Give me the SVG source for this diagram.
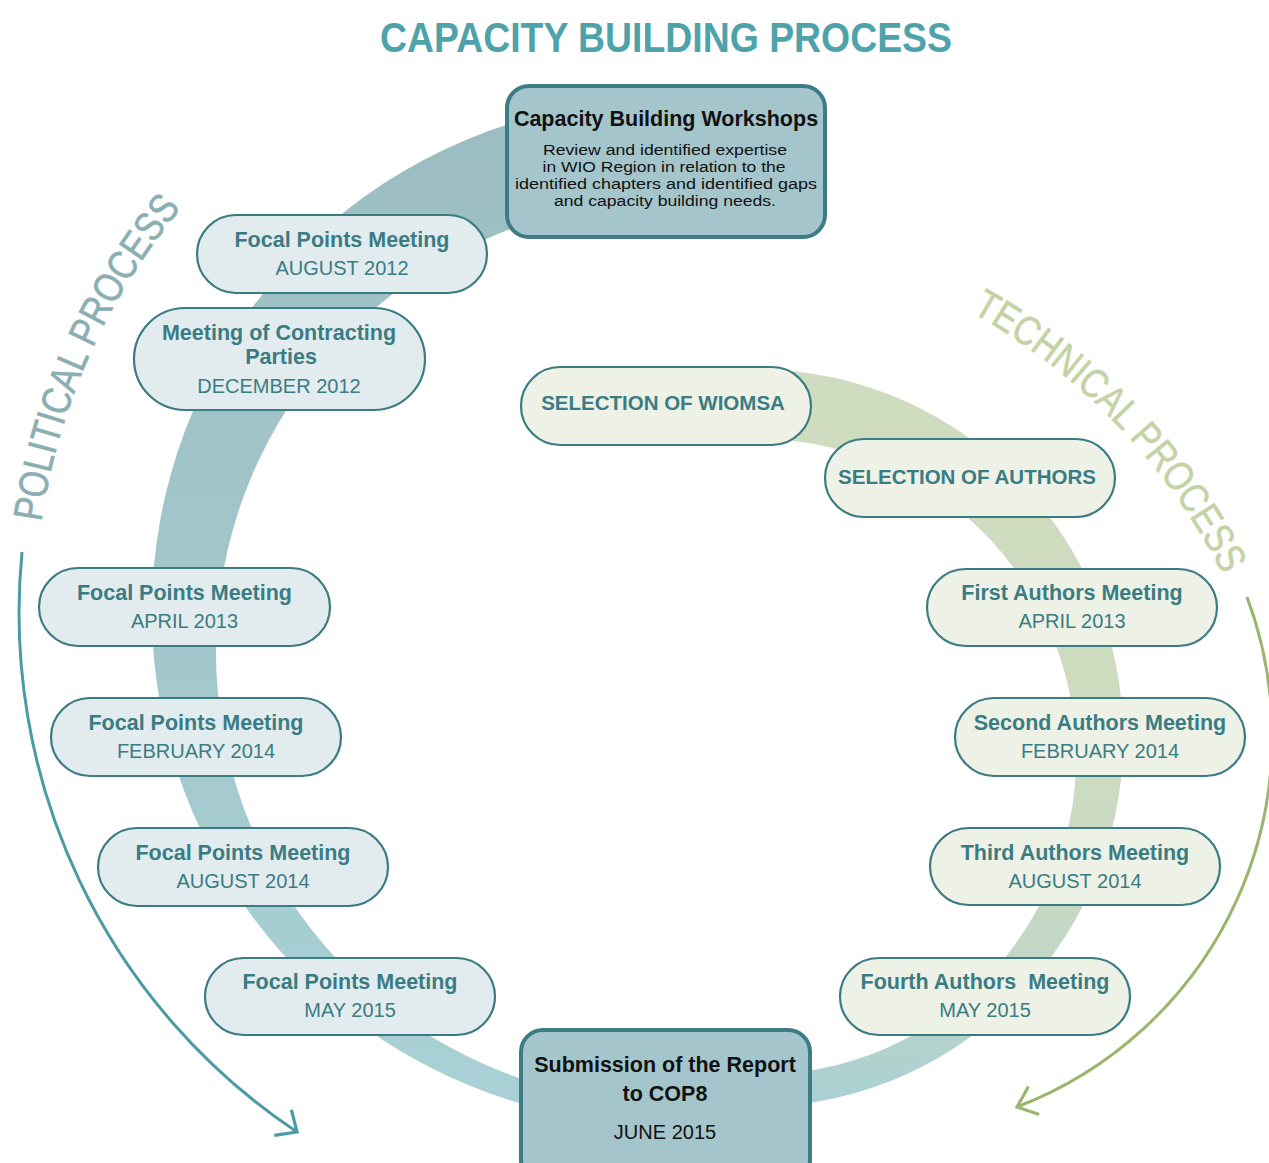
<svg xmlns="http://www.w3.org/2000/svg" xmlns:xlink="http://www.w3.org/1999/xlink" width="1269" height="1163" viewBox="0 0 1269 1163">
  <defs>
    <linearGradient id="gPol" gradientUnits="userSpaceOnUse" x1="0" y1="100" x2="0" y2="1120">
      <stop offset="0" stop-color="#9bbdc1"/>
      <stop offset="0.5" stop-color="#a2c7cb"/>
      <stop offset="1" stop-color="#a9d1d6"/>
    </linearGradient>
    <linearGradient id="gTec" gradientUnits="userSpaceOnUse" x1="0" y1="370" x2="0" y2="1105">
      <stop offset="0" stop-color="#cfdcbf"/>
      <stop offset="0.55" stop-color="#cddbc0"/>
      <stop offset="0.8" stop-color="#c2d7c6"/>
      <stop offset="1" stop-color="#a8d0d4"/>
    </linearGradient>
    <marker id="arrPol" markerUnits="userSpaceOnUse" markerWidth="40" markerHeight="40" refX="0" refY="0" orient="auto" overflow="visible">
      <path d="M-17,-15.4 L0,0 L-17,15.4" fill="none" stroke="#4b9ba4" stroke-width="3.2"/>
    </marker>
    <marker id="arrTec" markerUnits="userSpaceOnUse" markerWidth="40" markerHeight="40" refX="0" refY="0" orient="auto" overflow="visible">
      <path d="M-18,-15 L0,0 L-18,15" fill="none" stroke="#9ab56c" stroke-width="3.2"/>
    </marker>
    <path id="polPath" d="M41.4,522.1 A630,630 0 0 1 181.6,208"/>
    <path id="tecPath" d="M971.4,312.5 A619,619 0 0 1 1223,574.9"/>
    <style>
      .pp { fill:#e2ebed; stroke:#3b7b83; stroke-width:2.2; }
      .pt { fill:#edf1e6; stroke:#3b7b83; stroke-width:2.2; }
      .box { fill:#a3c5cb; stroke:#3d7c84; stroke-width:4; }
      .tb { font-family:"Liberation Sans", Arial, sans-serif; font-weight:bold; font-size:21.5px; fill:#3a7c83; text-anchor:middle; }
      .tc { font-family:"Liberation Sans", Arial, sans-serif; font-weight:bold; font-size:20.5px; fill:#3a7c83; text-anchor:middle; }
      .td { font-family:"Liberation Sans", Arial, sans-serif; font-size:20px; fill:#3a7c83; text-anchor:middle; }
      .kb { font-family:"Liberation Sans", Arial, sans-serif; font-weight:bold; font-size:21.5px; fill:#111; text-anchor:middle; }
      .kr { font-family:"Liberation Sans", Arial, sans-serif; font-size:15.5px; fill:#111; text-anchor:middle; }
      .kd { font-family:"Liberation Sans", Arial, sans-serif; font-size:20px; fill:#111; text-anchor:middle; }
      .arc { font-family:"Liberation Sans", Arial, sans-serif; font-size:41px; stroke-width:0.6; }
    </style>
  </defs>

  <rect x="0" y="0" width="1269" height="1163" fill="#ffffff"/>

  <g id="bands">
    <path d="M600,104 A512,512 0 0 0 600,1120 L600,1098 A451,451 0 0 1 600,206 Z" fill="url(#gPol)"/>
    <path d="M720,370.6 A369,369 0 1 1 720,1105.4 L720,1072.7 A318,318 0 1 0 720,441.3 Z" fill="url(#gTec)"/>
  </g>

  <g id="connectors">
    <path d="M22,552 A624,624 0 0 0 297,1132" fill="none" stroke="#4b9ba4" stroke-width="3" marker-end="url(#arrPol)"/>
    <path d="M1247,597 A397,397 0 0 1 1017,1107" fill="none" stroke="#9ab56c" stroke-width="3" marker-end="url(#arrTec)"/>
  </g>

  <g id="labels">
    <text class="arc" fill="#8aafb3" stroke="#8aafb3"><textPath xlink:href="#polPath" href="#polPath" textLength="348" lengthAdjust="spacingAndGlyphs">POLITICAL PROCESS</textPath></text>
    <text class="arc" fill="#c3d3a6" stroke="#c3d3a6"><textPath xlink:href="#tecPath" href="#tecPath" textLength="369" lengthAdjust="spacingAndGlyphs">TECHNICAL PROCESS</textPath></text>
    <text x="666" y="52" font-family="'Liberation Sans', Arial, sans-serif" font-weight="bold" font-size="43" fill="#4ea3ab" text-anchor="middle" textLength="572" lengthAdjust="spacingAndGlyphs">CAPACITY BUILDING PROCESS</text>
  </g>

  <g id="workshops">
    <rect class="box" x="507" y="86" width="318" height="151" rx="22"/>
    <text class="kb" x="666" y="126">Capacity Building Workshops</text>
    <text class="kr" x="665" y="155" textLength="244" lengthAdjust="spacingAndGlyphs">Review and identified expertise</text>
    <text class="kr" x="664" y="172" textLength="243" lengthAdjust="spacingAndGlyphs">in WIO Region in relation to the</text>
    <text class="kr" x="666" y="189" textLength="302" lengthAdjust="spacingAndGlyphs">identified chapters and identified gaps</text>
    <text class="kr" x="665" y="206" textLength="222" lengthAdjust="spacingAndGlyphs">and capacity building needs.</text>
  </g>

  <g id="fp-aug-2012">
    <rect class="pp" x="197" y="215" width="290" height="78" rx="39"/>
    <text class="tb" x="342" y="247">Focal Points Meeting</text>
    <text class="td" x="342" y="275">AUGUST 2012</text>
  </g>

  <g id="mcp-dec-2012">
    <rect class="pp" x="134" y="308" width="291" height="102" rx="51"/>
    <text class="tb" x="279" y="340">Meeting of Contracting</text>
    <text class="tb" x="281" y="364">Parties</text>
    <text class="td" x="279" y="393">DECEMBER 2012</text>
  </g>

  <g id="fp-apr-2013">
    <rect class="pp" x="39" y="568" width="291" height="78" rx="39"/>
    <text class="tb" x="184.5" y="600">Focal Points Meeting</text>
    <text class="td" x="184.5" y="628">APRIL 2013</text>
  </g>

  <g id="fp-feb-2014">
    <rect class="pp" x="51" y="698" width="290" height="78" rx="39"/>
    <text class="tb" x="196" y="730">Focal Points Meeting</text>
    <text class="td" x="196" y="758">FEBRUARY 2014</text>
  </g>

  <g id="fp-aug-2014">
    <rect class="pp" x="98" y="828" width="290" height="78" rx="39"/>
    <text class="tb" x="243" y="860">Focal Points Meeting</text>
    <text class="td" x="243" y="888">AUGUST 2014</text>
  </g>

  <g id="fp-may-2015">
    <rect class="pp" x="205" y="958" width="290" height="77" rx="38.5"/>
    <text class="tb" x="350" y="989">Focal Points Meeting</text>
    <text class="td" x="350" y="1017">MAY 2015</text>
  </g>

  <g id="sel-wiomsa">
    <rect class="pt" x="521" y="367" width="290" height="78" rx="39"/>
    <text class="tc" x="663" y="410">SELECTION OF WIOMSA</text>
  </g>

  <g id="sel-authors">
    <rect class="pt" x="825" y="439" width="290" height="78" rx="39"/>
    <text class="tc" x="967" y="484">SELECTION OF AUTHORS</text>
  </g>

  <g id="am-1">
    <rect class="pt" x="927" y="569" width="290" height="77" rx="38.5"/>
    <text class="tb" x="1072" y="600">First Authors Meeting</text>
    <text class="td" x="1072" y="628">APRIL 2013</text>
  </g>

  <g id="am-2">
    <rect class="pt" x="955" y="698" width="290" height="78" rx="39"/>
    <text class="tb" x="1100" y="730">Second Authors Meeting</text>
    <text class="td" x="1100" y="758">FEBRUARY 2014</text>
  </g>

  <g id="am-3">
    <rect class="pt" x="930" y="828" width="290" height="77" rx="38.5"/>
    <text class="tb" x="1075" y="860">Third Authors Meeting</text>
    <text class="td" x="1075" y="888">AUGUST 2014</text>
  </g>

  <g id="am-4">
    <rect class="pt" x="840" y="958" width="290" height="77" rx="38.5"/>
    <text class="tb" x="985" y="989" style="white-space:pre">Fourth Authors  Meeting</text>
    <text class="td" x="985" y="1017">MAY 2015</text>
  </g>

  <g id="submission">
    <rect class="box" x="521" y="1030" width="289" height="152" rx="22"/>
    <text class="kb" x="665" y="1072">Submission of the Report</text>
    <text class="kb" x="665" y="1101">to COP8</text>
    <text class="kd" x="665" y="1139">JUNE 2015</text>
  </g>
</svg>
